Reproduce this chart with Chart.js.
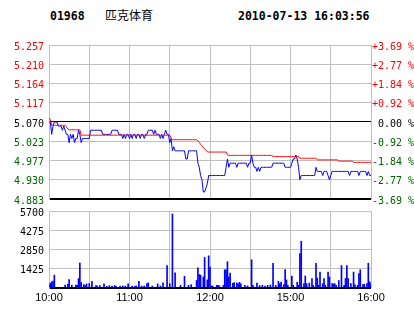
<!DOCTYPE html>
<html><head><meta charset="utf-8">
<script src="https://cdn.jsdelivr.net/npm/chart.js@4/dist/chart.umd.min.js"></script>
<style>
html,body{margin:0;padding:0;background:#fff;width:414px;height:314px;overflow:hidden;position:relative}
.t{position:absolute;white-space:pre;color:#000}
#code{left:50px;top:11px;font:bold 11.5px/11.5px 'DejaVu Sans Mono'}
#name{left:105px;top:9px;font:12px/12px 'Noto Sans CJK SC'}
#time{left:238px;top:11px;font:bold 11.5px/11.5px 'DejaVu Sans Mono'}
#pc{position:absolute;left:0;top:0;width:414px;height:210px}
#vc{position:absolute;left:0;top:200px;width:414px;height:114px}
</style></head><body>
<div class="t" id="code"></div>
<div class="t" id="name"></div>
<div class="t" id="time"></div>
<canvas id="pc" width="414" height="210"></canvas>
<canvas id="vc" width="414" height="114"></canvas>
<script>
const stockCode = '01968';
const stockName = '匹克体育';
const stamp = '2010-07-13 16:03:56';
const prevClose = 5.070;
const priceTicks = [4.883, 4.930, 4.977, 5.023, 5.070, 5.117, 5.164, 5.210, 5.257];
const priceLabels = ['4.883','4.930','4.977','5.023','5.070','5.117','5.164','5.210','5.257'];
const pctLabels = ['-3.69 %','-2.77 %','-1.84 %','-0.92 %',' 0.00 %','+0.92 %','+1.84 %','+2.77 %','+3.69 %'];
const volTicks = [0, 1425, 2850, 4275, 5700];
const volLabels = ['', '1425', '2850', '4275', '5700'];
const timeTicks = [0, 30, 60, 90, 120, 150, 180, 210, 240];
const timeLabels = ['10:00', '', '11:00', '', '12:00', '', '15:00', '', '16:00'];

// one value per trading minute
const prices = [
5.07,5.07,5.04,5.06,5.07,5.07,5.07,5.06,5.06,5.06,
5.05,5.06,5.05,5.04,5.04,5.02,5.04,5.03,5.04,5.02,
5.03,5.03,5.05,5.04,5.02,5.03,5.03,5.03,5.03,5.03,
5.03,5.05,5.05,5.05,5.05,5.05,5.05,5.05,5.05,5.05,
5.04,5.04,5.04,5.04,5.04,5.04,5.04,5.05,5.05,5.05,
5.05,5.05,5.04,5.04,5.04,5.03,5.04,5.03,5.04,5.04,
5.03,5.04,5.03,5.04,5.04,5.03,5.04,5.04,5.03,5.04,
5.04,5.03,5.04,5.04,5.05,5.05,5.05,5.05,5.04,5.05,
5.04,5.04,5.04,5.03,5.04,5.03,5.04,5.05,5.04,5.04,
5.02,5.03,5.00,5.01,5.00,5.00,5.00,5.00,5.00,5.00,
5.00,5.00,4.98,4.98,5.00,5.00,5.00,5.00,5.00,5.00,
5.00,4.97,4.96,4.94,4.93,4.90,4.90,4.91,4.92,4.94,
4.94,4.94,4.94,4.94,4.94,4.94,4.94,4.94,4.94,4.94,
4.94,4.94,4.96,4.98,4.96,4.97,4.97,4.97,4.97,4.97,
4.96,4.97,4.97,4.97,4.97,4.97,4.97,4.97,4.96,4.97,
4.97,4.99,4.97,4.96,4.96,4.95,4.96,4.95,4.96,4.96,
4.96,4.96,4.96,4.96,4.96,4.96,4.96,4.97,4.97,4.97,
4.97,4.97,4.97,4.97,4.97,4.97,4.96,4.96,4.96,4.96,
4.96,4.97,4.98,4.98,4.99,4.98,4.96,4.93,4.94,4.94,
4.94,4.94,4.94,4.94,4.94,4.94,4.94,4.94,4.94,4.96,
4.95,4.95,4.95,4.95,4.94,4.95,4.95,4.95,4.94,4.93,
4.94,4.95,4.95,4.95,4.95,4.95,4.95,4.95,4.95,4.95,
4.95,4.95,4.95,4.95,4.94,4.95,4.95,4.95,4.95,4.95,
4.95,4.94,4.95,4.95,4.95,4.95,4.95,4.94,4.95,4.94,
4.94
];
const avgPrices = [
5.080,5.075,5.062,5.062,5.062,5.062,5.062,5.062,5.062,5.062,
5.062,5.062,5.062,5.058,5.053,5.051,5.051,5.051,5.051,5.051,
5.051,5.051,5.051,5.051,5.038,5.038,5.038,5.038,5.038,5.038,
5.038,5.038,5.038,5.038,5.038,5.038,5.038,5.038,5.038,5.038,
5.038,5.038,5.038,5.038,5.038,5.038,5.038,5.038,5.038,5.038,
5.038,5.038,5.038,5.038,5.038,5.038,5.038,5.038,5.038,5.038,
5.038,5.038,5.038,5.038,5.038,5.038,5.038,5.038,5.038,5.038,
5.038,5.038,5.038,5.038,5.038,5.038,5.038,5.038,5.038,5.038,
5.038,5.038,5.038,5.038,5.038,5.038,5.038,5.038,5.038,5.038,
5.038,5.031,5.027,5.027,5.027,5.027,5.027,5.027,5.027,5.027,
5.027,5.027,5.027,5.027,5.027,5.027,5.027,5.027,5.027,5.027,
5.027,5.024,5.020,5.016,5.012,5.008,5.004,5.001,4.998,4.997,
4.997,4.997,4.997,4.997,4.997,4.997,4.997,4.997,4.997,4.997,
4.997,4.997,4.997,4.990,4.989,4.989,4.989,4.989,4.989,4.989,
4.989,4.989,4.989,4.989,4.989,4.989,4.989,4.989,4.989,4.989,
4.989,4.989,4.989,4.989,4.989,4.989,4.989,4.989,4.989,4.989,
4.989,4.989,4.989,4.989,4.989,4.989,4.989,4.986,4.986,4.986,
4.986,4.986,4.986,4.986,4.986,4.986,4.986,4.986,4.986,4.986,
4.986,4.986,4.986,4.986,4.986,4.986,4.986,4.982,4.982,4.982,
4.982,4.982,4.982,4.982,4.982,4.982,4.982,4.982,4.982,4.982,
4.978,4.978,4.978,4.978,4.978,4.978,4.978,4.978,4.978,4.978,
4.978,4.978,4.978,4.978,4.978,4.978,4.975,4.975,4.975,4.975,
4.975,4.975,4.975,4.975,4.975,4.975,4.975,4.972,4.972,4.972,
4.972,4.972,4.972,4.972,4.972,4.972,4.972,4.972,4.972,4.972,
4.972
];
const volumes = [
200,350,450,520,950,0,0,0,0,0,
0,0,210,0,280,625,0,210,0,0,
210,200,700,1850,410,0,250,180,300,0,
330,0,500,0,0,170,150,0,170,0,
0,300,0,130,0,180,0,150,0,180,
130,0,0,150,0,160,0,150,0,300,
0,0,140,0,120,150,0,500,0,150,
0,150,0,330,380,0,0,150,0,0,
0,300,0,150,0,380,0,0,1660,0,
320,0,5480,0,1130,0,0,0,200,0,
0,865,0,0,200,0,250,0,0,0,
560,1490,1000,950,0,820,2260,0,600,2380,
1540,150,150,0,0,200,200,160,0,0,
200,1350,1350,1950,820,1100,0,350,410,0,
380,300,420,300,0,0,200,0,160,0,
0,2090,200,0,0,370,0,180,0,200,
0,150,0,200,0,220,0,1830,0,200,
0,500,320,430,0,250,1370,600,200,0,
0,890,200,0,0,430,200,2550,3460,0,
320,890,320,0,370,0,700,200,0,1830,
740,200,1180,0,320,700,200,0,1180,820,
0,320,300,320,200,0,560,0,1660,0,
200,700,1660,700,0,320,0,1180,250,0,
200,1060,1350,0,250,280,0,320,1830,460,
300
];

document.getElementById('code').textContent = stockCode;
document.getElementById('name').textContent = stockName;
document.getElementById('time').textContent = stamp;

const GRID = '#c0c0c0', RED = '#ff0000', GREEN = '#006400', BLUE = '#0000ff';
const tickColor = v => Math.abs(v - prevClose) < 1e-6 ? '#000000' : (v > prevClose ? RED : GREEN);
const setTicks = vals => scale => { scale.ticks = vals.map(v => ({value: v})); };
const pts = arr => arr.map((v, i) => ({x: i, y: v}));
const monoFont = {family: 'DejaVu Sans Mono', size: 10};

function xAxis(showLabels) {
  return {
    type: 'linear', min: 0, max: 240, offset: false,
    afterBuildTicks: setTicks(timeTicks),
    grid: {color: GRID, lineWidth: 1, drawTicks: false, offset: false},
    border: {display: false},
    ticks: {display: showLabels, autoSkip: false, maxRotation: 0, minRotation: 0, padding: 3,
      color: '#000000', font: {family: 'Liberation Sans', size: 11},
      callback: (v, i) => timeLabels[i]},
    afterFit: s => { s.height = showLabels ? 26 : 0; }
  };
}

const common = {
  responsive: false, animation: false, devicePixelRatio: 1,
  plugins: {legend: {display: false}, tooltip: {enabled: false}, title: {display: false}},
  events: []
};

new Chart(document.getElementById('pc'), {
  type: 'line',
  data: {datasets: [
    {data: pts(avgPrices), borderColor: RED, borderWidth: 1, pointRadius: 0, tension: 0, fill: false, yAxisID: 'y'},
    {data: pts(prices), borderColor: BLUE, borderWidth: 1, pointRadius: 0, tension: 0, fill: false, yAxisID: 'y'}
  ]},
  options: Object.assign({}, common, {
    layout: {padding: {top: 45, bottom: 7, left: 0, right: 0}},
    scales: {
      x: xAxis(false),
      y: {
        type: 'linear', position: 'left', min: priceTicks[0], max: priceTicks[priceTicks.length - 1],
        afterBuildTicks: setTicks(priceTicks),
        grid: {drawTicks: false,
          color: c => c.index === 0 || c.index === 4 ? '#000000' : GRID,
          lineWidth: c => c.index === 0 ? 2 : 1},
        border: {display: true, color: GRID, width: 1},
        ticks: {autoSkip: false, padding: 5, labelOffset: 2, font: monoFont,
          color: c => tickColor(c.tick.value), callback: (v, i) => priceLabels[i]},
        afterFit: s => { s.width = 49; }
      },
      y2: {
        type: 'linear', position: 'right', min: priceTicks[0], max: priceTicks[priceTicks.length - 1],
        afterBuildTicks: setTicks(priceTicks),
        grid: {display: false, drawTicks: false},
        border: {display: true, color: GRID, width: 1},
        ticks: {autoSkip: false, padding: 1, labelOffset: 2, font: monoFont,
          color: c => tickColor(c.tick.value), callback: (v, i) => pctLabels[i]},
        afterFit: s => { s.width = 43; }
      }
    }
  })
});

new Chart(document.getElementById('vc'), {
  type: 'bar',
  data: {datasets: [
    {data: pts(volumes), backgroundColor: BLUE, borderWidth: 0, barThickness: 1}
  ]},
  options: Object.assign({}, common, {
    layout: {padding: {top: 9, bottom: 0, left: 0, right: 43}},
    scales: {
      x: xAxis(true),
      y: {
        type: 'linear', position: 'left', min: 0, max: 5700,
        afterBuildTicks: setTicks(volTicks),
        grid: {drawTicks: false,
          color: c => c.index === 0 ? '#000000' : GRID,
          lineWidth: c => c.index === 0 ? 2 : 1},
        border: {display: true, color: GRID, width: 1},
        ticks: {autoSkip: false, padding: 5, labelOffset: 2, font: monoFont, color: '#000000',
          callback: (v, i) => volLabels[i]},
        afterFit: s => { s.width = 49; }
      }
    }
  })
});
</script>
</body></html>
